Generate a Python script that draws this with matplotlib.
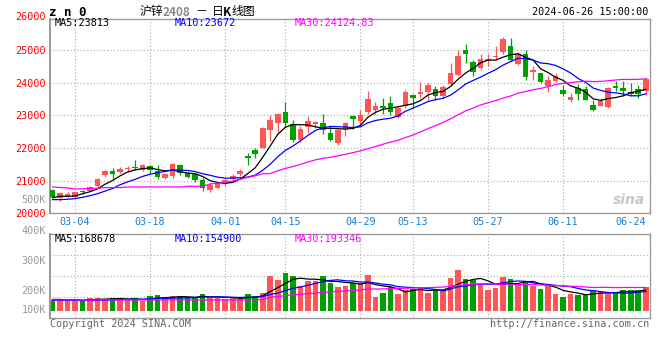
import numpy as np
import pandas as pd
import matplotlib
matplotlib.use("Agg")
import matplotlib.pyplot as plt
from matplotlib.transforms import blended_transform_factory

plt.rcParams['font.family'] = ['DejaVu Sans Mono', 'Noto Sans CJK SC']

# trading days 2024-02-28 .. 2024-06-26 (SHFE holidays removed)
holidays = ['2024-04-04', '2024-04-05', '2024-05-01', '2024-05-02', '2024-05-03', '2024-06-10']
dates = [d for d in pd.bdate_range('2024-02-28', '2024-06-26') if d.strftime('%Y-%m-%d') not in holidays]

opens = [20705, 20460, 20541, 20500, 20684, 20684, 20838, 21175, 21298, 21267,
         21369, 21400, 21318, 21451, 21308, 21093, 21155, 21471, 21226, 21206,
         21012, 20700, 20767, 20889, 21063, 21196, 21768, 21942, 22014, 22566,
         22770, 23117, 22729, 22249, 22647, 22739, 22770, 22463, 22157, 22586,
         22986, 22812, 23087, 23169, 23292, 23374, 22944, 23292, 23629, 23639,
         23701, 23813, 23578, 23966, 24222, 25009, 24621, 24447, 24651, 24784,
         24927, 25111, 24559, 24886, 24314, 24283, 23905, 24058, 23782, 23455,
         23834, 23803, 23322, 23292, 23241, 23885, 23844, 23721, 23803, 23731]
highs = [20746, 20664, 20664, 20684, 20725, 20827, 21093, 21318, 21379, 21410,
         21461, 21645, 21512, 21471, 21471, 21236, 21533, 21502, 21267, 21246,
         21073, 20920, 20950, 21053, 21196, 21360, 21850, 21993, 22640, 22995,
         23076, 23404, 22872, 22688, 22974, 22831, 23056, 22668, 22627, 22811,
         23016, 23169, 23731, 23414, 23527, 23598, 23292, 23762, 23660, 24028,
         23987, 23905, 23936, 24600, 25009, 25193, 24682, 24886, 24886, 25131,
         25397, 25356, 24927, 25009, 24518, 24293, 24191, 24293, 23926, 23680,
         23966, 23885, 23455, 23527, 23864, 24038, 24048, 23987, 23936, 24171]
lows = [20460, 20388, 20500, 20480, 20582, 20674, 20817, 21114, 21052, 21236,
        21257, 21338, 21298, 21226, 21052, 21062, 21093, 21175, 21093, 20971,
        20684, 20664, 20746, 20848, 20992, 21155, 21482, 21707, 21993, 22218,
        22504, 22647, 22197, 22197, 22453, 22606, 22443, 22218, 22096, 22380,
        22587, 22658, 23047, 23047, 23047, 23016, 22924, 23231, 23231, 23517,
        23476, 23476, 23527, 23885, 24191, 24600, 24191, 24375, 24498, 24682,
        24886, 24651, 24539, 24089, 24069, 23997, 23721, 24028, 23599, 23394,
        23476, 23455, 23118, 23271, 23210, 23731, 23599, 23578, 23527, 23619]
closes = [20500, 20623, 20582, 20644, 20654, 20807, 21052, 21298, 21206, 21369,
          21400, 21379, 21482, 21328, 21103, 21206, 21502, 21226, 21124, 21012,
          20766, 20875, 20930, 21022, 21133, 21288, 21707, 21830, 22627, 22872,
          23056, 22780, 22259, 22596, 22831, 22790, 22545, 22249, 22545, 22765,
          22894, 23006, 23496, 23292, 23231, 23087, 23210, 23721, 23517, 23721,
          23936, 23599, 23874, 24283, 24825, 24886, 24314, 24733, 24712, 24804,
          25346, 24682, 24886, 24160, 24396, 24007, 24089, 24191, 23660, 23558,
          23660, 23476, 23169, 23425, 23833, 23823, 23742, 23639, 23660, 24120]
# volume in thousands of lots
volumes = [86, 86, 86, 86, 78, 103, 103, 97, 103, 86,
           86, 103, 78, 119, 125, 103, 119, 108, 108, 108,
           136, 103, 103, 92, 103, 95, 136, 119, 147, 281,
           248, 308, 281, 200, 243, 243, 281, 222, 195, 202,
           227, 227, 289, 114, 147, 195, 138, 167, 173, 187,
           147, 167, 167, 265, 329, 257, 248, 208, 167, 187,
           273, 257, 214, 240, 200, 176, 202, 136, 111, 136,
           127, 136, 162, 154, 136, 144, 167, 167, 167, 195]

# moving-average values before enough bars exist
ma5_head = [20480, 20520, 20520, 20530]
ma10_head = [20419, 20419, 20430, 20450, 20490, 20540, 20600, 20680, 20760]
ma30_head = [20807, 20790, 20776, 20746, 20746, 20766, 20766, 20787, 20787, 20787,
             20807, 20807, 20807, 20807, 20807, 20807, 20807, 20807, 20827, 20827,
             20827, 20900, 20921, 20950, 20990, 21040, 21100, 21150, 21210]
vma5_head = [91, 91, 88, 88]
vma10_head = [84, 84, 84, 84, 84, 85, 85, 86, 86]
vma30_head = [87, 87, 87, 87, 87, 87, 87, 87, 87, 87,
              87, 87, 87, 87, 87, 87, 87, 87, 87, 87,
              87, 87, 87, 87, 87, 87, 87, 89, 90]

price_ma_labels = ["MA5:23813", "MA10:23672", "MA30:24124.83"]
vol_ma_labels = ["MA5:168678", "MA10:154900", "MA30:193346"]
price_ticks = [20000, 21000, 22000, 23000, 24000, 25000]
tick_dates = ["03-04", "03-18", "04-01", "04-15", "04-29", "05-13", "05-27", "06-11", "06-24"]
vol_labels = ["500K", "400K", "300K", "200K", "100K"]
vol_label_y = [200, 231, 261, 290.5, 310]   # pixel rows where the chart prints them

UP = '#FF5555'
DOWN = '#00A000'
GRID = '#AAAAAA'
EDGE = '#999999'
MA_COLORS = ['black', '#0000FF', '#FF00FF']


def moving(values, n, head):
    s = pd.Series(values, dtype=float).rolling(n).mean().to_numpy()
    s[:n - 1] = head
    return s


def fx(x):
    return x / 660


def fy(y):
    return 1 - y / 360


n = len(closes)
x = np.arange(n)
o = np.array(opens, float)
c = np.array(closes, float)
up = c >= o
colors = np.where(up, UP, DOWN)
labels_md = [d.strftime('%m-%d') for d in dates]
tick_idx = [labels_md.index(t) for t in tick_dates]
grid_idx = tick_idx[:-1]

fig = plt.figure(figsize=(6.6, 3.6), dpi=100)
ax = fig.add_axes([fx(50), fy(213.3), 599.5 / 660, (213.3 - 19) / 360])
av = fig.add_axes([fx(50), fy(318), 599.5 / 660, 84 / 360])

xlo, xhi = -0.333, 79.5

# ---- price panel
ax.set_xlim(xlo, xhi)
ax.set_ylim(20000, 25950)
for g in price_ticks[1:]:
    ax.axhline(g, color=GRID, lw=0.8, ls=(0, (1, 2)), zorder=0)
for g in grid_idx:
    ax.axvline(g, color=GRID, lw=0.8, ls=(0, (1, 2)), zorder=0)

ax.vlines(x, lows, highs, colors=colors, lw=0.9, zorder=2)
body_lo = np.minimum(o, c)
body_h = np.maximum(np.abs(c - o), 28)
ax.bar(x, body_h, bottom=body_lo, width=0.74, color=colors, lw=0, zorder=3)

for (n_, head), col in zip([(5, ma5_head), (10, ma10_head), (30, ma30_head)], MA_COLORS):
    ax.plot(x, moving(closes, n_, head), color=col, lw=0.9, zorder=4)

ax.set_yticks(price_ticks)
ax.set_yticklabels([str(t) for t in price_ticks], color='red', fontsize=7.3)
ax.set_xticks(tick_idx)
ax.set_xticklabels(tick_dates, color='#1580D8', fontsize=7.3)
ax.tick_params(length=0, pad=3)
trans = blended_transform_factory(ax.transAxes, ax.transData)
ax.text(-4 / 599.5, 26000, "26000", transform=trans, ha='right', va='center',
        color='red', fontsize=7.3, clip_on=False)
for sp in ax.spines.values():
    sp.set_color(EDGE)
    sp.set_linewidth(1.0)
ax.spines['left'].set_linewidth(1.4)

ax.text(0.965, 0.07, "sina", transform=ax.transAxes, ha='center', va='center',
        fontsize=10, fontweight='bold', style='italic', color='#C8C8C8',
        family='DejaVu Sans', zorder=1)

# ---- volume panel
vlo, vhi = -59, 621
av.set_xlim(xlo, xhi)
av.set_ylim(vlo, vhi)
for f in [0.25, 0.5, 0.75]:
    av.axhline(vlo + f * (vhi - vlo), color=GRID, lw=0.8, ls=(0, (1, 2)), zorder=0)
for g in grid_idx:
    av.axvline(g, color=GRID, lw=0.8, ls=(0, (1, 2)), zorder=0)
av.bar(x, volumes, width=0.74, color=colors, lw=0, zorder=2)
for (n_, head), col in zip([(5, vma5_head), (10, vma10_head), (30, vma30_head)], MA_COLORS):
    av.plot(x, moving(volumes, n_, head), color=col, lw=0.9, zorder=3)
av.set_xticks([])
av.set_yticks([])
for sp in av.spines.values():
    sp.set_color(EDGE)
    sp.set_linewidth(1.0)
av.spines['left'].set_linewidth(1.4)

for lab, yy in zip(vol_labels, vol_label_y):
    fig.text(fx(46), fy(yy), lab, ha='right', va='center', color='#999999', fontsize=7.3)

# ---- header / labels
fig.text(fx(49), fy(12), "z n 0", fontsize=9, fontweight='bold', ha='left', va='center')
cjk = ['Noto Sans CJK SC', 'DejaVu Sans']
fig.text(fx(140), fy(12), "沪锌", fontsize=8.5, ha='left', va='center', family=cjk)
fig.text(fx(163), fy(12), "2408", fontsize=8.5, ha='left', va='center', color='#888888',
         fontweight='bold', family=cjk)
fig.text(fx(195), fy(12), "－", fontsize=8.5, ha='left', va='center', family=cjk)
fig.text(fx(212), fy(12), "日", fontsize=8.5, ha='left', va='center', family=cjk)
fig.text(fx(223), fy(12), "K", fontsize=8.5, ha='left', va='center', fontweight='bold', family=cjk)
fig.text(fx(231), fy(12), "线图", fontsize=8.5, ha='left', va='center', family=cjk)
fig.text(fx(648), fy(12), "2024-06-26 15:00:00", fontsize=7.3, ha='right', va='center')

for lab, xx, col in zip(price_ma_labels, [55, 175, 295], MA_COLORS):
    fig.text(fx(xx), fy(23.5), lab, fontsize=7.3, ha='left', va='center', color=col)
for lab, xx, col in zip(vol_ma_labels, [55, 175, 295], MA_COLORS):
    fig.text(fx(xx), fy(238.7), lab, fontsize=7.3, ha='left', va='center', color=col)

fig.text(fx(50), fy(323.7), "Copyright 2024 SINA.COM", fontsize=7.3, ha='left', va='center', color='#666666')
fig.text(fx(649), fy(323.7), "http://finance.sina.com.cn", fontsize=7.3, ha='right', va='center', color='#666666')

fig.savefig("out.png", dpi=100)
